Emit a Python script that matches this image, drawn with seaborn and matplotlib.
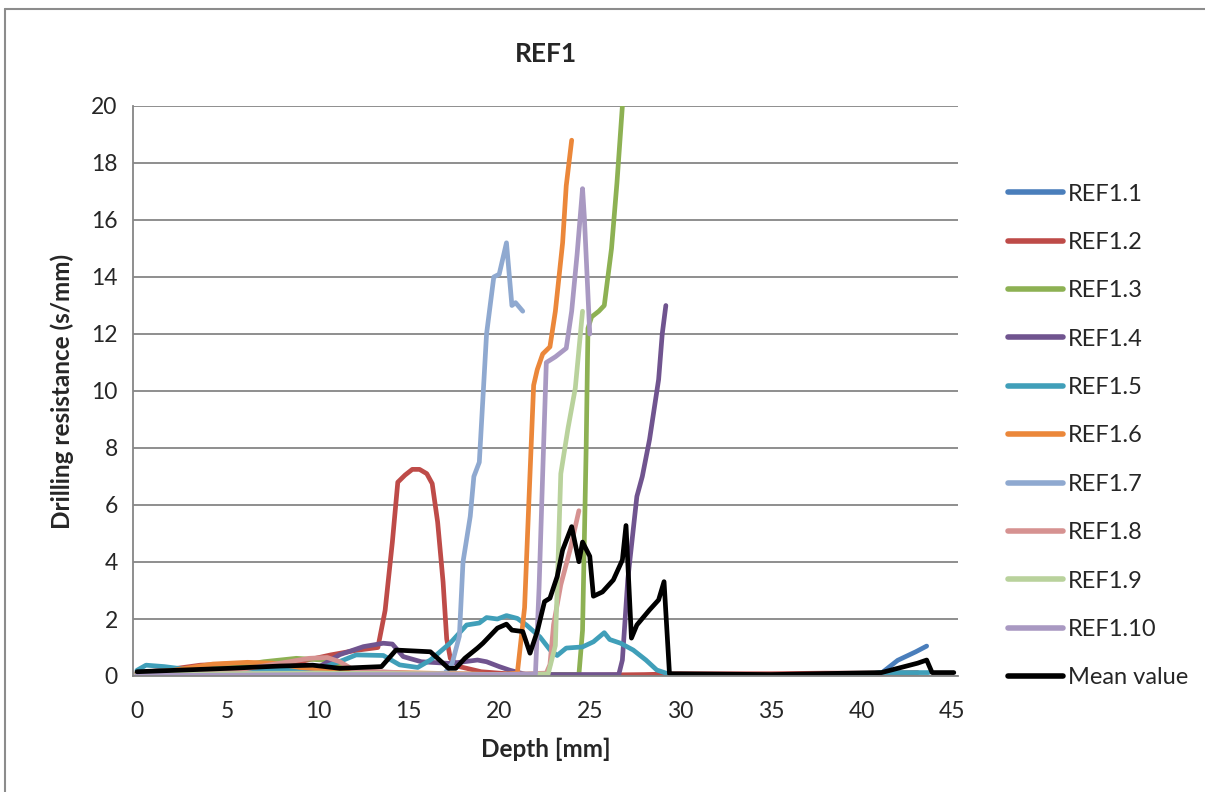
import numpy as np
import pandas as pd
import matplotlib
matplotlib.use('Agg')
import matplotlib.pyplot as plt
from matplotlib.lines import Line2D
import seaborn as sns

# Depth [mm] / drilling resistance [s/mm]
REF1_1_X = [0, 3, 8, 12, 20, 30, 41.0, 41.5, 42.0, 42.5, 43.0, 43.6]
REF1_1_Y = [0.1, 0.15, 0.2, 0.1, 0.02, 0.0, 0.05, 0.3, 0.55, 0.7, 0.85, 1.05]

REF1_2_X = [0, 2, 3.5, 5, 7, 9, 10.7, 12.1, 13.3, 13.7, 14.1, 14.4, 14.8, 15.2, 15.6, 16.0,
            16.3, 16.6, 16.9, 17.1, 17.3, 17.8, 19, 21, 25, 28, 30, 35, 38, 41, 43.1]
REF1_2_Y = [0.1, 0.25, 0.38, 0.42, 0.42, 0.5, 0.74, 0.9, 1.0, 2.3, 4.7, 6.8, 7.05, 7.25, 7.25, 7.1,
            6.75, 5.4, 3.3, 1.3, 0.62, 0.33, 0.15, 0.05, 0.03, 0.05, 0.08, 0.08, 0.1, 0.1, 0.12]

REF1_3_X = [0, 3, 5, 7, 8.8, 10.5, 11.5, 13, 20, 24.4, 24.6, 24.8, 24.9, 25.1, 25.5, 25.8, 26.2, 26.5, 26.8]
REF1_3_Y = [0.1, 0.2, 0.3, 0.5, 0.62, 0.55, 0.3, 0.1, 0.05, 0.05, 1.6, 8.0, 12.2, 12.6, 12.8, 13.0, 15.0, 17.3, 20.0]

REF1_4_X = [0, 4, 8, 10, 11.2, 12.5, 13.6, 14.1, 14.7, 15.7, 17.3, 18.8, 19.3, 20.0, 20.6, 21.5,
            26.6, 26.8, 27.1, 27.6, 27.9, 28.3, 28.8, 29.0, 29.2]
REF1_4_Y = [0.05, 0.1, 0.2, 0.3, 0.75, 1.03, 1.15, 1.12, 0.68, 0.5, 0.44, 0.56, 0.5, 0.33, 0.2, 0.05,
            0.05, 0.56, 3.4, 6.3, 7.0, 8.3, 10.4, 12.0, 13.0]

REF1_5_X = [0, 0.5, 1.5, 2.5, 6, 9, 10.5, 11.4, 12.1, 13.6, 14.5, 15.5, 16.2, 17.3, 18.2, 18.9, 19.3,
            19.9, 20.4, 21.0, 21.5, 22.25, 22.8, 23.2, 23.7, 24.6, 25.2, 25.8, 26.1, 26.7, 27.4, 28.1,
            28.7, 29.3, 30, 35, 40, 41, 43.7]
REF1_5_Y = [0.2, 0.38, 0.33, 0.25, 0.2, 0.25, 0.35, 0.56, 0.74, 0.72, 0.39, 0.3, 0.56, 1.16, 1.79, 1.86, 2.05,
            2.0, 2.12, 2.02, 1.79, 1.37, 0.92, 0.72, 0.98, 1.02, 1.2, 1.52, 1.28, 1.15, 0.91, 0.56,
            0.21, 0.08, 0.03, 0.02, 0.02, 0.12, 0.12]

REF1_6_X = [0, 2, 4.2, 6.1, 7.5, 9, 12, 16, 20, 21.0, 21.4, 21.7, 21.9, 22.1, 22.4, 22.8, 23.1, 23.5, 23.7, 24.0]
REF1_6_Y = [0.1, 0.2, 0.42, 0.48, 0.45, 0.3, 0.15, 0.1, 0.05, 0.1, 2.4, 7.1, 10.2, 10.75, 11.3, 11.55, 12.8, 15.2, 17.2, 18.8]

REF1_7_X = [0, 5, 10, 15, 17.0, 17.4, 17.8, 18.0, 18.4, 18.6, 18.9, 19.3, 19.7, 20.0, 20.4, 20.7, 20.9, 21.3]
REF1_7_Y = [0.05, 0.1, 0.1, 0.05, 0.1, 0.44, 1.4, 4.0, 5.6, 7.0, 7.5, 12.0, 14.0, 14.1, 15.2, 13.0, 13.1, 12.8]

REF1_8_X = [0, 5, 8.4, 9.5, 10.5, 11.2, 12, 15, 20, 22.6, 22.8, 23.0, 23.4, 23.9, 24.4]
REF1_8_Y = [0.05, 0.15, 0.5, 0.62, 0.65, 0.5, 0.2, 0.1, 0.05, 0.1, 0.4, 1.8, 3.2, 4.4, 5.8]

REF1_9_X = [0, 5, 10, 15, 20, 22.7, 23.1, 23.4, 23.8, 24.2, 24.6]
REF1_9_Y = [0.05, 0.08, 0.1, 0.08, 0.05, 0.07, 1.07, 7.1, 8.7, 10.1, 12.8]

REF1_10_X = [0, 5, 10, 15, 20, 22.0, 22.2, 22.4, 22.6, 23.1, 23.7, 24.0, 24.3, 24.6, 24.7, 25.0]
REF1_10_Y = [0.02, 0.03, 0.05, 0.05, 0.05, 0.07, 3.1, 7.1, 11.0, 11.2, 11.5, 12.8, 14.8, 17.1, 16.1, 12.0]

MEAN_X = [0, 5.1, 7.9, 9.7, 11.2, 13.5, 14.3, 16.2, 16.6, 17.2, 17.6, 18.1, 18.8, 19.1, 19.9, 20.4, 20.7,
          21.3, 21.7, 22.1, 22.5, 22.8, 23.2, 23.5, 24.0, 24.4, 24.6, 25.0, 25.2, 25.7, 26.3, 26.8, 27.0,
          27.3, 27.6, 28.3, 28.8, 29.1, 29.4, 35, 41.1, 43.1, 43.6, 43.9, 45.1]
MEAN_Y = [0.15, 0.27, 0.35, 0.38, 0.27, 0.33, 0.91, 0.85, 0.62, 0.27, 0.27, 0.62, 0.98, 1.15, 1.68, 1.82, 1.61,
          1.56, 0.8, 1.56, 2.61, 2.73, 3.49, 4.42, 5.24, 4.01, 4.7, 4.2, 2.8, 2.95, 3.37, 4.07, 5.28,
          1.33, 1.79, 2.32, 2.67, 3.31, 0.08, 0.05, 0.12, 0.45, 0.56, 0.12, 0.12]

SERIES = ['REF1.1', 'REF1.2', 'REF1.3', 'REF1.4', 'REF1.5', 'REF1.6', 'REF1.7', 'REF1.8',
          'REF1.9', 'REF1.10', 'Mean value']
COLORS = ['#4A7EBB', '#BE4B48', '#8DB153', '#70548F', '#409FB9', '#EB873A', '#8FA9D0',
          '#D69291', '#B9D29C', '#A999C2', '#000000']

xs = [REF1_1_X, REF1_2_X, REF1_3_X, REF1_4_X, REF1_5_X, REF1_6_X, REF1_7_X, REF1_8_X,
      REF1_9_X, REF1_10_X, MEAN_X]
ys = [REF1_1_Y, REF1_2_Y, REF1_3_Y, REF1_4_Y, REF1_5_Y, REF1_6_Y, REF1_7_Y, REF1_8_Y,
      REF1_9_Y, REF1_10_Y, MEAN_Y]

frames = []
for name, x, y in zip(SERIES, xs, ys):
    frames.append(pd.DataFrame({'Depth': x, 'Value': y, 'Series': name}))
df = pd.concat(frames, ignore_index=True)

sns.set_style('white')
plt.rcParams['font.family'] = ['Lato', 'DejaVu Sans']

GRID = '#868686'

fig = plt.figure(figsize=(12.05, 7.92), dpi=100)
ax = fig.add_axes([133 / 1205, 1 - 676 / 792, (958 - 133) / 1205, (676 - 106) / 792])

sns.lineplot(data=df, x='Depth', y='Value', hue='Series', hue_order=SERIES, palette=COLORS,
             sort=False, estimator=None, linewidth=3.4, ax=ax,
             solid_capstyle='round', solid_joinstyle='round')

ax.set_xlim(-0.22, 45.33)
ax.set_ylim(0, 20)
ax.set_xticks(np.arange(0, 46, 5))
ax.set_xticks(np.arange(0, 45.3, 0.2), minor=True)
ax.set_yticks(np.arange(0, 21, 2))
ax.yaxis.grid(True, color=GRID, linewidth=1.3)
ax.set_axisbelow(True)
for s in ['top', 'right']:
    ax.spines[s].set_visible(False)
for s in ['left', 'bottom']:
    ax.spines[s].set_color(GRID)
    ax.spines[s].set_linewidth(1.3)
ax.tick_params(axis='x', which='major', length=5, width=1, color=GRID, direction='out',
               labelsize=16.5, pad=13)
ax.tick_params(axis='x', which='minor', length=5, width=1, color=GRID, direction='out')
ax.tick_params(axis='y', which='major', length=5, width=1, color=GRID, direction='out',
               labelsize=16.5, pad=6)
ax.set_xlabel('Depth [mm]', fontsize=17.5, fontweight='bold', labelpad=11)
ax.set_ylabel('Drilling resistance (s/mm)', fontsize=17.5, fontweight='bold', labelpad=12)
ax.set_title('REF1', fontsize=19, fontweight='bold', pad=32)

handles, labels = ax.get_legend_handles_labels()
for h in handles:
    h.set_linewidth(4)
    h.set_solid_capstyle('round')
ax.legend(handles, labels, loc='center left', bbox_to_anchor=(996 / 1205, 1 - 436 / 792),
          bbox_transform=fig.transFigure, frameon=False, fontsize=17, handlelength=2.35,
          handletextpad=0.2, labelspacing=1.16, borderpad=0)

# grey outer chart border (top and left visible)
fig.add_artist(Line2D([5 / 1205, 1.0], [1 - 9 / 792] * 2, color='#8C8C8C', linewidth=1.5,
                      transform=fig.transFigure))
fig.add_artist(Line2D([5 / 1205] * 2, [0, 1 - 9 / 792], color='#8C8C8C', linewidth=1.5,
                      transform=fig.transFigure))

fig.savefig('out.png', dpi=100)
